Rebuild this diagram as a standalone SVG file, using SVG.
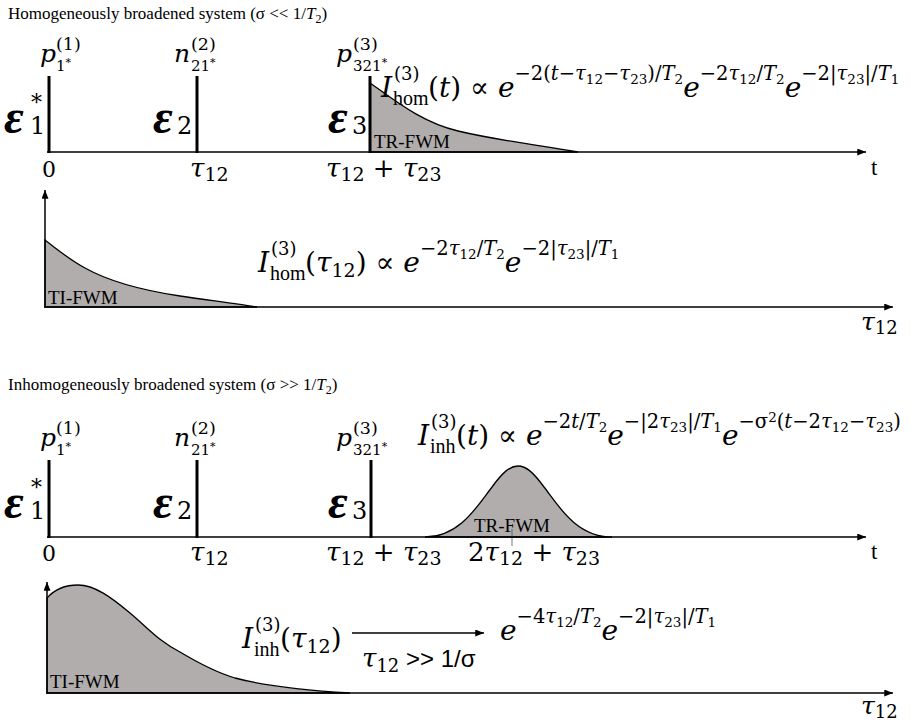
<svg xmlns="http://www.w3.org/2000/svg" width="911" height="727" viewBox="0 0 911 727">
<style>
.t{font-family:"Liberation Serif",serif;font-size:17px}
.r{font-family:"Liberation Serif",serif}
.m{font-family:"DejaVu Serif",serif}
.i{font-style:italic}
.b{font-family:"Liberation Serif",serif;font-weight:bold;font-style:italic}
.x{font-size:19.5px}
.s{font-size:13.5px}
.sans{font-family:"Liberation Sans",sans-serif}
.ax{stroke:#000;stroke-width:1.5;fill:none}
.pl{stroke:#000;stroke-width:3}
.fl{fill:#b1adac;stroke:#000;stroke-width:1.3}
</style>
<defs>
<marker id="ah" viewBox="0 0 10 8" refX="10" refY="4" markerWidth="9" markerHeight="7" markerUnits="userSpaceOnUse" orient="auto"><path d="M0,0 L10,4 L0,8 z" fill="#000"/></marker>
</defs>
<rect width="911" height="727" fill="#fff"/>

<!-- Panel 1 -->
<g id="panel1">
<text class="t" x="8" y="19">Homogeneously broadened system (σ &lt;&lt; 1/<tspan class="i">T</tspan><tspan font-size="12" dy="4">2</tspan><tspan dy="-4">)</tspan></text>
<path class="fl" d="M370,152 L370,83 C392,98 420,122 458,131 C500,141 540,145 578,152 Z"/>
<text class="r" x="374" y="148" font-size="19">TR-FWM</text>
<g id="p1-labels">
<text class="m i" x="40" y="62" font-size="25">p</text>
<text class="m" x="56" y="50" font-size="17.5">(1)</text>
<text class="m" x="56" y="71" font-size="15">1<tspan font-size="11" dy="-5">*</tspan></text>
<text class="m i" x="174" y="62" font-size="25">n</text>
<text class="m" x="191" y="50" font-size="17.5">(2)</text>
<text class="m" x="191" y="71" font-size="15">21<tspan font-size="11" dy="-5">*</tspan></text>
<text class="m i" x="336" y="62" font-size="25">p</text>
<text class="m" x="353" y="50" font-size="17.5">(3)</text>
<text class="m" x="353" y="71" font-size="15">321<tspan font-size="11" dy="-5">*</tspan></text>
<text class="b" x="4" y="133" font-size="48">ε</text>
<text class="m" x="30" y="134" font-size="24">1<tspan x="31" dy="-24" font-size="22">*</tspan></text>
<text class="b" x="153" y="133" font-size="48">ε</text>
<text class="m" x="177" y="134" font-size="24">2</text>
<text class="b" x="328" y="133" font-size="48">ε</text>
<text class="m" x="352" y="134" font-size="24">3</text>
<text class="m" x="42" y="177" font-size="22">0</text>
<text class="m" x="190" y="177" font-size="26"><tspan class="i">τ</tspan><tspan font-size="19" dy="4">12</tspan></text>
<text class="m" x="326" y="177" font-size="26"><tspan class="i">τ</tspan><tspan font-size="19" dy="4">12</tspan><tspan dy="-4"> + </tspan><tspan class="i">τ</tspan><tspan font-size="19" dy="4">23</tspan></text>
<text class="r" x="871" y="175" font-size="23">t</text>
</g>
<g id="p1-formula">
<text class="m i" x="381" y="97" font-size="28">I</text>
<text class="m" x="394" y="80" font-size="18">(3)</text>
<text class="r" x="393" y="105" font-size="20">hom</text>
<text class="m" x="428" y="97" font-size="28">(<tspan class="i">t</tspan>) ∝ <tspan class="i">e</tspan><tspan class="x" dy="-17">−2(</tspan><tspan class="x i">t</tspan><tspan class="x">−</tspan><tspan class="x i">τ</tspan><tspan class="s" dy="4">12</tspan><tspan class="x" dy="-4">−</tspan><tspan class="x i">τ</tspan><tspan class="s" dy="4">23</tspan><tspan class="x" dy="-4">)/</tspan><tspan class="x i">T</tspan><tspan class="s" dy="4">2</tspan><tspan class="i" dy="13">e</tspan><tspan class="x" dy="-17">−2</tspan><tspan class="x i">τ</tspan><tspan class="s" dy="4">12</tspan><tspan class="x" dy="-4">/</tspan><tspan class="x i">T</tspan><tspan class="s" dy="4">2</tspan><tspan class="i" dy="13">e</tspan><tspan class="x" dy="-17">−2|</tspan><tspan class="x i">τ</tspan><tspan class="s" dy="4">23</tspan><tspan class="x" dy="-4">|/</tspan><tspan class="x i">T</tspan><tspan class="s" dy="4">1</tspan></text>
</g>
</g>

<!-- Panel 2 -->
<g id="panel2">
<path class="fl" d="M45,307 L45,240 C60,252 70,260 85,268 C110,282 140,290 180,296 C215,301 240,304 257,307 Z"/>
<text class="r" x="48" y="304" font-size="19">TI-FWM</text>
<text class="m i" x="258" y="272" font-size="28">I</text>
<text class="m" x="271" y="255" font-size="18">(3)</text>
<text class="r" x="270" y="280" font-size="20">hom</text>
<text class="m" x="305" y="272" font-size="28">(<tspan class="i">τ</tspan><tspan font-size="19" dy="5">12</tspan><tspan dy="-5">) ∝ </tspan><tspan class="i">e</tspan><tspan class="x" dy="-17">−2</tspan><tspan class="x i">τ</tspan><tspan class="s" dy="4">12</tspan><tspan class="x" dy="-4">/</tspan><tspan class="x i">T</tspan><tspan class="s" dy="4">2</tspan><tspan class="i" dy="13">e</tspan><tspan class="x" dy="-17">−2|</tspan><tspan class="x i">τ</tspan><tspan class="s" dy="4">23</tspan><tspan class="x" dy="-4">|/</tspan><tspan class="x i">T</tspan><tspan class="s" dy="4">1</tspan></text>
<text class="m" x="861" y="330" font-size="25"><tspan class="i">τ</tspan><tspan font-size="18" dy="4">12</tspan></text>
</g>

<!-- Panel 3 -->
<g id="panel3">
<text class="t" x="8" y="390">Inhomogeneously broadened system (σ &gt;&gt; 1/<tspan class="i">T</tspan><tspan font-size="12" dy="4">2</tspan><tspan dy="-4">)</tspan></text>
<path class="fl" d="M425,537 C460,537 478,505 492,487 C503,472 510,466 518,466 C526,466 533,472 544,487 C558,505 576,537 612,537 Z"/>
<text class="r" x="474" y="532" font-size="19">TR-FWM</text>
<line x1="512" y1="529" x2="512" y2="546" stroke="#555" stroke-width="0.8"/>
<text class="m i" x="40" y="446" font-size="25">p</text>
<text class="m" x="56" y="434" font-size="17.5">(1)</text>
<text class="m" x="56" y="455" font-size="15">1<tspan font-size="11" dy="-5">*</tspan></text>
<text class="m i" x="174" y="446" font-size="25">n</text>
<text class="m" x="191" y="434" font-size="17.5">(2)</text>
<text class="m" x="191" y="455" font-size="15">21<tspan font-size="11" dy="-5">*</tspan></text>
<text class="m i" x="336" y="446" font-size="25">p</text>
<text class="m" x="353" y="434" font-size="17.5">(3)</text>
<text class="m" x="353" y="455" font-size="15">321<tspan font-size="11" dy="-5">*</tspan></text>
<text class="b" x="4" y="518" font-size="48">ε</text>
<text class="m" x="30" y="519" font-size="24">1<tspan x="31" dy="-24" font-size="22">*</tspan></text>
<text class="b" x="153" y="518" font-size="48">ε</text>
<text class="m" x="177" y="519" font-size="24">2</text>
<text class="b" x="328" y="518" font-size="48">ε</text>
<text class="m" x="352" y="519" font-size="24">3</text>
<text class="m" x="42" y="561" font-size="22">0</text>
<text class="m" x="190" y="561" font-size="26"><tspan class="i">τ</tspan><tspan font-size="19" dy="4">12</tspan></text>
<text class="m" x="326" y="561" font-size="26"><tspan class="i">τ</tspan><tspan font-size="19" dy="4">12</tspan><tspan dy="-4"> + </tspan><tspan class="i">τ</tspan><tspan font-size="19" dy="4">23</tspan></text>
<text class="m" x="468" y="561" font-size="26">2<tspan class="i">τ</tspan><tspan font-size="19" dy="4">12</tspan><tspan dy="-4"> + </tspan><tspan class="i">τ</tspan><tspan font-size="19" dy="4">23</tspan></text>
<text class="r" x="871" y="559" font-size="23">t</text>
<text class="m i" x="418" y="445" font-size="28">I</text>
<text class="m" x="431" y="428" font-size="18">(3)</text>
<text class="r" x="430" y="453" font-size="20">inh</text>
<text class="m" x="456" y="445" font-size="28">(<tspan class="i">t</tspan>) ∝ <tspan class="i">e</tspan><tspan class="x" dy="-17">−2</tspan><tspan class="x i">t</tspan><tspan class="x">/</tspan><tspan class="x i">T</tspan><tspan class="s" dy="4">2</tspan><tspan class="i" dy="13">e</tspan><tspan class="x" dy="-17">−|2</tspan><tspan class="x i">τ</tspan><tspan class="s" dy="4">23</tspan><tspan class="x" dy="-4">|/</tspan><tspan class="x i">T</tspan><tspan class="s" dy="4">1</tspan><tspan class="i" dy="13">e</tspan><tspan class="x" dy="-17">−σ</tspan><tspan class="s" dy="-6">2</tspan><tspan class="x" dy="6">(</tspan><tspan class="x i">t</tspan><tspan class="x">−2</tspan><tspan class="x i">τ</tspan><tspan class="s" dy="4">12</tspan><tspan class="x" dy="-4">−</tspan><tspan class="x i">τ</tspan><tspan class="s" dy="4">23</tspan><tspan class="x" dy="-4">)</tspan></text>
</g>

<!-- Panel 4 -->
<g id="panel4">
<path class="fl" d="M47,693 L47,598 C55,589 66,585 78,585 C95,585 112,598 130,613 C150,630 160,642 180,652 C200,664 215,672 235,678 C265,686 300,690 350,693 Z"/>
<text class="r" x="50" y="688" font-size="19">TI-FWM</text>
<text class="m i" x="242" y="648" font-size="28">I</text>
<text class="m" x="255" y="631" font-size="18">(3)</text>
<text class="r" x="254" y="656" font-size="20">inh</text>
<text class="m" x="280" y="648" font-size="28">(<tspan class="i">τ</tspan><tspan font-size="19" dy="5">12</tspan><tspan dy="-5">)</tspan></text>
<text class="m" x="362" y="667" font-size="26"><tspan class="i">τ</tspan><tspan font-size="18" dy="5">12</tspan><tspan class="sans" font-size="24" dy="-5"> &gt;&gt; 1/σ</tspan></text>
<text class="m" x="500" y="640" font-size="28"><tspan class="i">e</tspan><tspan class="x" dy="-17">−4</tspan><tspan class="x i">τ</tspan><tspan class="s" dy="4">12</tspan><tspan class="x" dy="-4">/</tspan><tspan class="x i">T</tspan><tspan class="s" dy="4">2</tspan><tspan class="i" dy="13">e</tspan><tspan class="x" dy="-17">−2|</tspan><tspan class="x i">τ</tspan><tspan class="s" dy="4">23</tspan><tspan class="x" dy="-4">|/</tspan><tspan class="x i">T</tspan><tspan class="s" dy="4">1</tspan></text>
<text class="m" x="861" y="714" font-size="25"><tspan class="i">τ</tspan><tspan font-size="18" dy="4">12</tspan></text>
</g>

<!-- Connectors: axes, pulses, arrows -->
<g id="connectors">
<line class="ax" x1="47" y1="152" x2="866" y2="152" marker-end="url(#ah)"/>
<line class="pl" x1="49" y1="76" x2="49" y2="153"/>
<line class="pl" x1="197" y1="76" x2="197" y2="153"/>
<line class="pl" x1="370" y1="76" x2="370" y2="153"/>
<line class="ax" x1="45" y1="307" x2="45" y2="190" marker-end="url(#ah)"/>
<line class="ax" x1="44" y1="307" x2="893" y2="307" marker-end="url(#ah)"/>
<line class="ax" x1="47" y1="537" x2="866" y2="537" marker-end="url(#ah)"/>
<line class="pl" x1="49" y1="460" x2="49" y2="538"/>
<line class="pl" x1="197" y1="460" x2="197" y2="538"/>
<line class="pl" x1="371" y1="460" x2="371" y2="538"/>
<line class="ax" x1="47" y1="693" x2="47" y2="582" marker-end="url(#ah)"/>
<line class="ax" x1="46" y1="693" x2="893" y2="693" marker-end="url(#ah)"/>
<line class="ax" x1="352" y1="633" x2="484" y2="633" marker-end="url(#ah)"/>
</g>
</svg>
